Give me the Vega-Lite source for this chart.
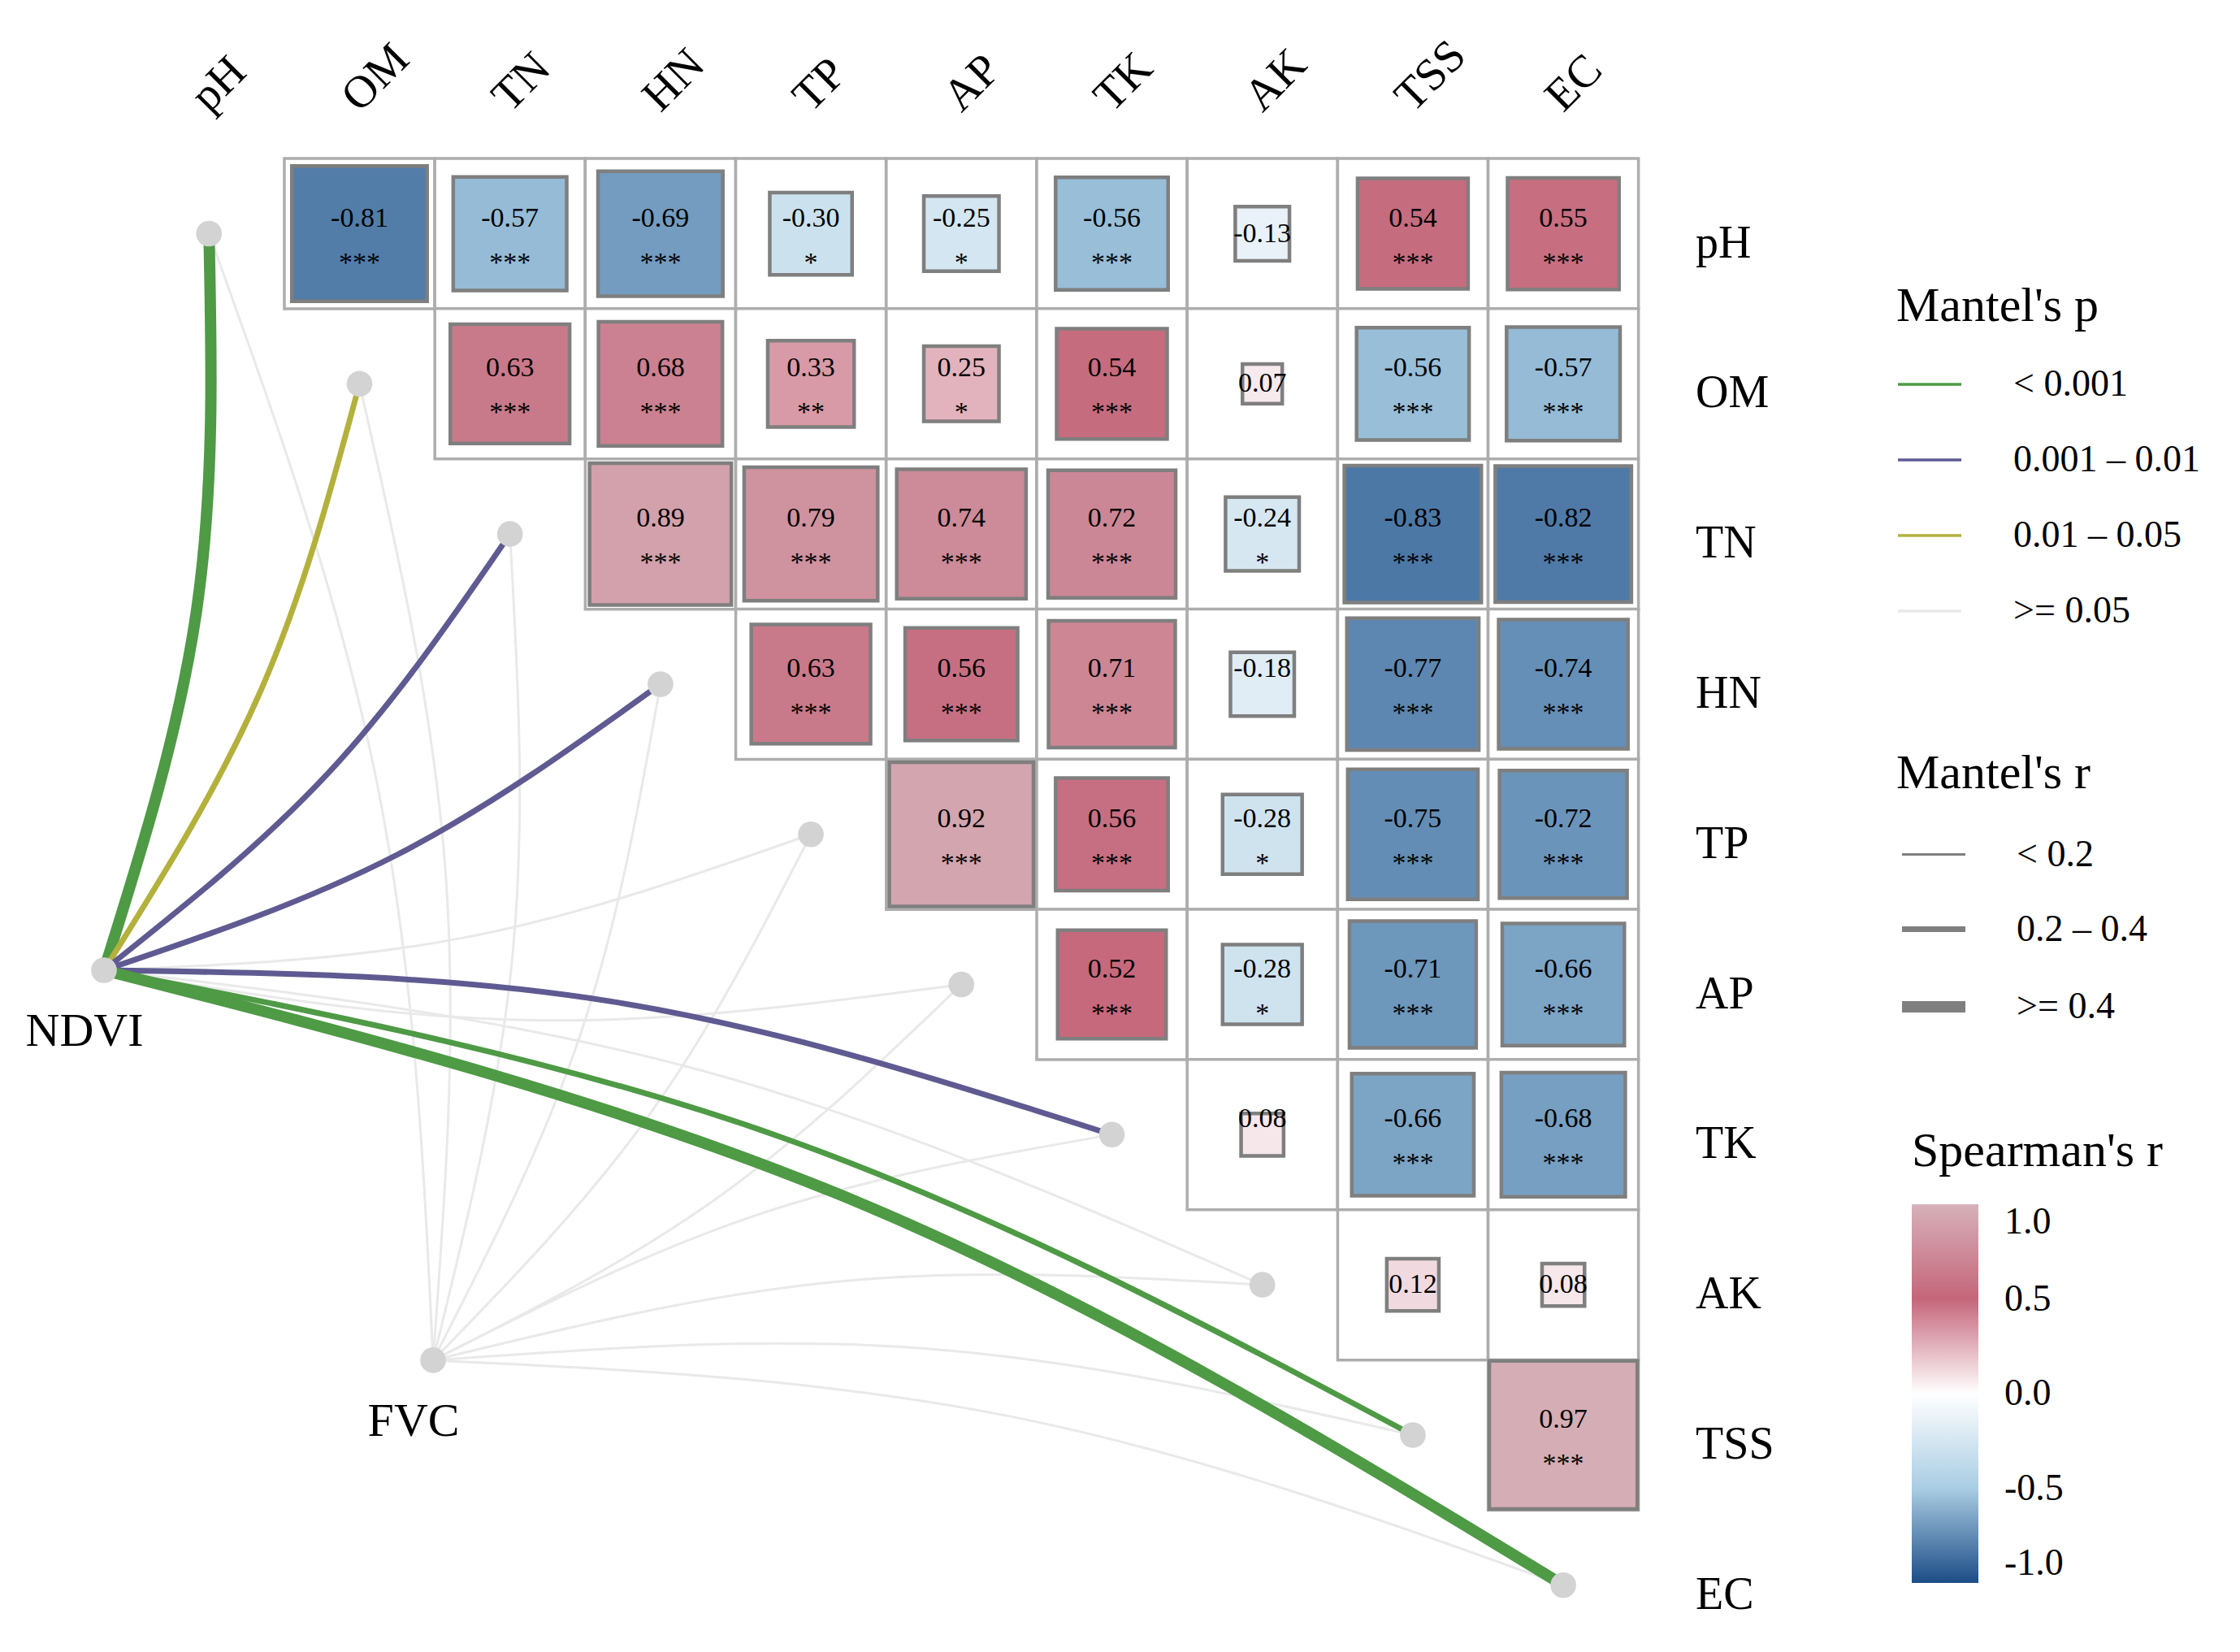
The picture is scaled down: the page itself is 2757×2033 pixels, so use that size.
{
  "$schema": "https://vega.github.io/schema/vega-lite/v6.json",
  "width": 2757,
  "height": 2033,
  "autosize": {"type": "none"},
  "padding": 0,
  "background": "white",
  "config": {
    "view": {"stroke": null},
    "locale": {"number": {"decimal": ".", "thousands": ",", "grouping": [3], "currency": ["$", ""], "minus": "-"}},
    "legend": {"labelFont": "Liberation Serif", "titleFont": "Liberation Serif", "labelFontSize": 46, "titleFontSize": 60, "titleFontWeight": "normal", "labelColor": "black", "titleColor": "black", "padding": 0, "titleLimit": 1000, "labelLimit": 1000}
  },
  "resolve": {"scale": {"stroke": "shared", "strokeWidth": "shared"}},
  "datasets": {
    "cells": [
      {"i": 0, "j": 1, "r": -0.81, "sig": "***"},
      {"i": 0, "j": 2, "r": -0.57, "sig": "***"},
      {"i": 0, "j": 3, "r": -0.69, "sig": "***"},
      {"i": 0, "j": 4, "r": -0.30, "sig": "*"},
      {"i": 0, "j": 5, "r": -0.25, "sig": "*"},
      {"i": 0, "j": 6, "r": -0.56, "sig": "***"},
      {"i": 0, "j": 7, "r": -0.13, "sig": null},
      {"i": 0, "j": 8, "r": 0.54, "sig": "***"},
      {"i": 0, "j": 9, "r": 0.55, "sig": "***"},
      {"i": 1, "j": 2, "r": 0.63, "sig": "***"},
      {"i": 1, "j": 3, "r": 0.68, "sig": "***"},
      {"i": 1, "j": 4, "r": 0.33, "sig": "**"},
      {"i": 1, "j": 5, "r": 0.25, "sig": "*"},
      {"i": 1, "j": 6, "r": 0.54, "sig": "***"},
      {"i": 1, "j": 7, "r": 0.07, "sig": null},
      {"i": 1, "j": 8, "r": -0.56, "sig": "***"},
      {"i": 1, "j": 9, "r": -0.57, "sig": "***"},
      {"i": 2, "j": 3, "r": 0.89, "sig": "***"},
      {"i": 2, "j": 4, "r": 0.79, "sig": "***"},
      {"i": 2, "j": 5, "r": 0.74, "sig": "***"},
      {"i": 2, "j": 6, "r": 0.72, "sig": "***"},
      {"i": 2, "j": 7, "r": -0.24, "sig": "*"},
      {"i": 2, "j": 8, "r": -0.83, "sig": "***"},
      {"i": 2, "j": 9, "r": -0.82, "sig": "***"},
      {"i": 3, "j": 4, "r": 0.63, "sig": "***"},
      {"i": 3, "j": 5, "r": 0.56, "sig": "***"},
      {"i": 3, "j": 6, "r": 0.71, "sig": "***"},
      {"i": 3, "j": 7, "r": -0.18, "sig": ""},
      {"i": 3, "j": 8, "r": -0.77, "sig": "***"},
      {"i": 3, "j": 9, "r": -0.74, "sig": "***"},
      {"i": 4, "j": 5, "r": 0.92, "sig": "***"},
      {"i": 4, "j": 6, "r": 0.56, "sig": "***"},
      {"i": 4, "j": 7, "r": -0.28, "sig": "*"},
      {"i": 4, "j": 8, "r": -0.75, "sig": "***"},
      {"i": 4, "j": 9, "r": -0.72, "sig": "***"},
      {"i": 5, "j": 6, "r": 0.52, "sig": "***"},
      {"i": 5, "j": 7, "r": -0.28, "sig": "*"},
      {"i": 5, "j": 8, "r": -0.71, "sig": "***"},
      {"i": 5, "j": 9, "r": -0.66, "sig": "***"},
      {"i": 6, "j": 7, "r": 0.08, "sig": ""},
      {"i": 6, "j": 8, "r": -0.66, "sig": "***"},
      {"i": 6, "j": 9, "r": -0.68, "sig": "***"},
      {"i": 7, "j": 8, "r": 0.12, "sig": null},
      {"i": 7, "j": 9, "r": 0.08, "sig": null},
      {"i": 8, "j": 9, "r": 0.97, "sig": "***"}
    ],
    "vars": [
      {"i": 0, "name": "pH"}, {"i": 1, "name": "OM"}, {"i": 2, "name": "TN"}, {"i": 3, "name": "HN"}, {"i": 4, "name": "TP"},
      {"i": 5, "name": "AP"}, {"i": 6, "name": "TK"}, {"i": 7, "name": "AK"}, {"i": 8, "name": "TSS"}, {"i": 9, "name": "EC"}
    ],
    "nodes": [
      {"name": "NDVI", "x": -0.698, "y": 4.905},
      {"name": "FVC", "x": 1.489, "y": 7.502}
    ],
    "links": [
      {"l": "NDVI-pH", "k": 0, "x": -0.698, "y": 4.905, "pc": "< 0.001", "rc": ">= 0.4"},
      {"l": "NDVI-pH", "k": 1, "x": -0.08, "y": 2.49, "pc": "< 0.001", "rc": ">= 0.4"},
      {"l": "NDVI-pH", "k": 2, "x": 0, "y": 0, "pc": "< 0.001", "rc": ">= 0.4"},
      {"l": "NDVI-OM", "k": 0, "x": -0.698, "y": 4.905, "pc": "0.01 – 0.05", "rc": "0.2 – 0.4"},
      {"l": "NDVI-OM", "k": 1, "x": 0.346, "y": 3.038, "pc": "0.01 – 0.05", "rc": "0.2 – 0.4"},
      {"l": "NDVI-OM", "k": 2, "x": 1, "y": 1, "pc": "0.01 – 0.05", "rc": "0.2 – 0.4"},
      {"l": "NDVI-TN", "k": 0, "x": -0.698, "y": 4.905, "pc": "0.001 – 0.01", "rc": "0.2 – 0.4"},
      {"l": "NDVI-TN", "k": 1, "x": 0.796, "y": 3.588, "pc": "0.001 – 0.01", "rc": "0.2 – 0.4"},
      {"l": "NDVI-TN", "k": 2, "x": 2, "y": 2, "pc": "0.001 – 0.01", "rc": "0.2 – 0.4"},
      {"l": "NDVI-HN", "k": 0, "x": -0.698, "y": 4.905, "pc": "0.001 – 0.01", "rc": "0.2 – 0.4"},
      {"l": "NDVI-HN", "k": 1, "x": 1.246, "y": 4.138, "pc": "0.001 – 0.01", "rc": "0.2 – 0.4"},
      {"l": "NDVI-HN", "k": 2, "x": 3, "y": 3, "pc": "0.001 – 0.01", "rc": "0.2 – 0.4"},
      {"l": "NDVI-TP", "k": 0, "x": -0.698, "y": 4.905, "pc": ">= 0.05", "rc": "< 0.2"},
      {"l": "NDVI-TP", "k": 1, "x": 1.696, "y": 4.688, "pc": ">= 0.05", "rc": "< 0.2"},
      {"l": "NDVI-TP", "k": 2, "x": 4, "y": 4, "pc": ">= 0.05", "rc": "< 0.2"},
      {"l": "NDVI-AP", "k": 0, "x": -0.698, "y": 4.905, "pc": ">= 0.05", "rc": "< 0.2"},
      {"l": "NDVI-AP", "k": 1, "x": 2.146, "y": 5.238, "pc": ">= 0.05", "rc": "< 0.2"},
      {"l": "NDVI-AP", "k": 2, "x": 5, "y": 5, "pc": ">= 0.05", "rc": "< 0.2"},
      {"l": "NDVI-TK", "k": 0, "x": -0.698, "y": 4.905, "pc": "0.001 – 0.01", "rc": "0.2 – 0.4"},
      {"l": "NDVI-TK", "k": 1, "x": 2.706, "y": 5.118, "pc": "0.001 – 0.01", "rc": "0.2 – 0.4"},
      {"l": "NDVI-TK", "k": 2, "x": 6, "y": 6, "pc": "0.001 – 0.01", "rc": "0.2 – 0.4"},
      {"l": "NDVI-AK", "k": 0, "x": -0.698, "y": 4.905, "pc": ">= 0.05", "rc": "< 0.2"},
      {"l": "NDVI-AK", "k": 1, "x": 3.256, "y": 5.568, "pc": ">= 0.05", "rc": "< 0.2"},
      {"l": "NDVI-AK", "k": 2, "x": 7, "y": 7, "pc": ">= 0.05", "rc": "< 0.2"},
      {"l": "NDVI-TSS", "k": 0, "x": -0.698, "y": 4.905, "pc": "< 0.001", "rc": "0.2 – 0.4"},
      {"l": "NDVI-TSS", "k": 1, "x": 3.806, "y": 6.018, "pc": "< 0.001", "rc": "0.2 – 0.4"},
      {"l": "NDVI-TSS", "k": 2, "x": 8, "y": 8, "pc": "< 0.001", "rc": "0.2 – 0.4"},
      {"l": "NDVI-EC", "k": 0, "x": -0.698, "y": 4.905, "pc": "< 0.001", "rc": ">= 0.4"},
      {"l": "NDVI-EC", "k": 1, "x": 4.356, "y": 6.468, "pc": "< 0.001", "rc": ">= 0.4"},
      {"l": "NDVI-EC", "k": 2, "x": 9, "y": 9, "pc": "< 0.001", "rc": ">= 0.4"},
      {"l": "FVC-pH", "k": 0, "x": 1.489, "y": 7.502, "pc": ">= 0.05", "rc": "< 0.2"},
      {"l": "FVC-pH", "k": 1, "x": 1.120, "y": 3.677, "pc": ">= 0.05", "rc": "< 0.2"},
      {"l": "FVC-pH", "k": 2, "x": 0, "y": 0, "pc": ">= 0.05", "rc": "< 0.2"},
      {"l": "FVC-OM", "k": 0, "x": 1.489, "y": 7.502, "pc": ">= 0.05", "rc": "< 0.2"},
      {"l": "FVC-OM", "k": 1, "x": 1.570, "y": 4.227, "pc": ">= 0.05", "rc": "< 0.2"},
      {"l": "FVC-OM", "k": 2, "x": 1, "y": 1, "pc": ">= 0.05", "rc": "< 0.2"},
      {"l": "FVC-TN", "k": 0, "x": 1.489, "y": 7.502, "pc": ">= 0.05", "rc": "< 0.2"},
      {"l": "FVC-TN", "k": 1, "x": 2.020, "y": 4.777, "pc": ">= 0.05", "rc": "< 0.2"},
      {"l": "FVC-TN", "k": 2, "x": 2, "y": 2, "pc": ">= 0.05", "rc": "< 0.2"},
      {"l": "FVC-HN", "k": 0, "x": 1.489, "y": 7.502, "pc": ">= 0.05", "rc": "< 0.2"},
      {"l": "FVC-HN", "k": 1, "x": 2.470, "y": 5.327, "pc": ">= 0.05", "rc": "< 0.2"},
      {"l": "FVC-HN", "k": 2, "x": 3, "y": 3, "pc": ">= 0.05", "rc": "< 0.2"},
      {"l": "FVC-TP", "k": 0, "x": 1.489, "y": 7.502, "pc": ">= 0.05", "rc": "< 0.2"},
      {"l": "FVC-TP", "k": 1, "x": 2.920, "y": 5.877, "pc": ">= 0.05", "rc": "< 0.2"},
      {"l": "FVC-TP", "k": 2, "x": 4, "y": 4, "pc": ">= 0.05", "rc": "< 0.2"},
      {"l": "FVC-AP", "k": 0, "x": 1.489, "y": 7.502, "pc": ">= 0.05", "rc": "< 0.2"},
      {"l": "FVC-AP", "k": 1, "x": 3.370, "y": 6.427, "pc": ">= 0.05", "rc": "< 0.2"},
      {"l": "FVC-AP", "k": 2, "x": 5, "y": 5, "pc": ">= 0.05", "rc": "< 0.2"},
      {"l": "FVC-TK", "k": 0, "x": 1.489, "y": 7.502, "pc": ">= 0.05", "rc": "< 0.2"},
      {"l": "FVC-TK", "k": 1, "x": 3.670, "y": 6.525, "pc": ">= 0.05", "rc": "< 0.2"},
      {"l": "FVC-TK", "k": 2, "x": 6, "y": 6, "pc": ">= 0.05", "rc": "< 0.2"},
      {"l": "FVC-AK", "k": 0, "x": 1.489, "y": 7.502, "pc": ">= 0.05", "rc": "< 0.2"},
      {"l": "FVC-AK", "k": 1, "x": 4.220, "y": 6.975, "pc": ">= 0.05", "rc": "< 0.2"},
      {"l": "FVC-AK", "k": 2, "x": 7, "y": 7, "pc": ">= 0.05", "rc": "< 0.2"},
      {"l": "FVC-TSS", "k": 0, "x": 1.489, "y": 7.502, "pc": ">= 0.05", "rc": "< 0.2"},
      {"l": "FVC-TSS", "k": 1, "x": 4.770, "y": 7.425, "pc": ">= 0.05", "rc": "< 0.2"},
      {"l": "FVC-TSS", "k": 2, "x": 8, "y": 8, "pc": ">= 0.05", "rc": "< 0.2"},
      {"l": "FVC-EC", "k": 0, "x": 1.489, "y": 7.502, "pc": ">= 0.05", "rc": "< 0.2"},
      {"l": "FVC-EC", "k": 1, "x": 5.320, "y": 7.875, "pc": ">= 0.05", "rc": "< 0.2"},
      {"l": "FVC-EC", "k": 2, "x": 9, "y": 9, "pc": ">= 0.05", "rc": "< 0.2"}
    ]
  },
  "layer": [
    {
      "data": {"name": "cells"},
      "mark": {"type": "square", "size": 34225, "fill": "white", "stroke": "#adadad", "strokeWidth": 3.5, "opacity": 1},
      "encoding": {
        "x": {"field": "j", "type": "quantitative", "scale": {"domain": [-1.389, 13.497], "nice": false, "zero": false}, "axis": null},
        "y": {"field": "i", "type": "quantitative", "scale": {"domain": [-1.556, 9.445], "nice": false, "zero": false, "reverse": true}, "axis": null}
      }
    },
    {
      "data": {"name": "cells"},
      "transform": [{"calculate": "abs(datum.r)", "as": "absr"}],
      "mark": {"type": "square", "stroke": "#7f7f7f", "strokeWidth": 4.5, "opacity": 1},
      "encoding": {
        "x": {"field": "j", "type": "quantitative", "axis": null},
        "y": {"field": "i", "type": "quantitative", "axis": null},
        "fill": {
          "field": "r", "type": "quantitative",
          "scale": {"domain": [-1, -0.5, 0, 0.5, 1], "range": ["#1c4c86", "#a9cde3", "#ffffff", "#c5667a", "#d6b1b9"], "interpolate": "rgb"},
          "legend": {
            "title": "Spearman's r", "orient": "none", "legendX": 2353, "legendY": 1388, "direction": "vertical",
            "gradientLength": 466, "gradientThickness": 82, "gradientStrokeWidth": 0,
            "values": [-1, -0.5, 0, 0.5, 1], "labelExpr": "replace(format(datum.value, '.1f'), '\u2212', '-')",
            "titlePadding": 34, "labelOffset": 32
          }
        },
        "size": {"field": "absr", "type": "quantitative", "scale": {"domain": [0, 1], "range": [0, 34225], "zero": true}, "legend": null}
      }
    },
    {
      "data": {"name": "cells"},
      "transform": [
        {"filter": "datum.sig != null"},
        {"calculate": "replace(format(datum.r, '.2f'), '\u2212', '-')", "as": "lab"}
      ],
      "mark": {"type": "text", "font": "Liberation Serif", "fontSize": 34, "color": "black", "align": "center", "baseline": "middle", "dy": -19},
      "encoding": {
        "x": {"field": "j", "type": "quantitative", "axis": null},
        "y": {"field": "i", "type": "quantitative", "axis": null},
        "text": {"field": "lab", "type": "nominal"}
      }
    },
    {
      "data": {"name": "cells"},
      "transform": [
        {"filter": "datum.sig == null"},
        {"calculate": "replace(format(datum.r, '.2f'), '\u2212', '-')", "as": "lab"}
      ],
      "mark": {"type": "text", "font": "Liberation Serif", "fontSize": 34, "color": "black", "align": "center", "baseline": "middle", "dy": 0},
      "encoding": {
        "x": {"field": "j", "type": "quantitative", "axis": null},
        "y": {"field": "i", "type": "quantitative", "axis": null},
        "text": {"field": "lab", "type": "nominal"}
      }
    },
    {
      "data": {"name": "cells"},
      "transform": [{"filter": "datum.sig != null && datum.sig != ''"}],
      "mark": {"type": "text", "font": "Liberation Serif", "fontSize": 34, "color": "black", "align": "center", "baseline": "middle", "dy": 36},
      "encoding": {
        "x": {"field": "j", "type": "quantitative", "axis": null},
        "y": {"field": "i", "type": "quantitative", "axis": null},
        "text": {"field": "sig", "type": "nominal"}
      }
    },
    {
      "data": {"name": "links"},
      "transform": [{"filter": "datum.pc == '>= 0.05'"}],
      "mark": {"type": "line", "interpolate": "natural", "strokeCap": "round", "opacity": 1},
      "encoding": {
        "x": {"field": "x", "type": "quantitative", "axis": null},
        "y": {"field": "y", "type": "quantitative", "axis": null},
        "detail": {"field": "l", "type": "nominal"},
        "order": {"field": "k", "type": "quantitative"},
        "stroke": {
          "field": "pc", "type": "nominal",
          "scale": {"domain": ["< 0.001", "0.001 – 0.01", "0.01 – 0.05", ">= 0.05"], "range": ["#4e9a45", "#5f5a91", "#b3b13c", "#e9e9e9"]},
          "legend": {"title": "Mantel's p", "orient": "none", "legendX": 2334, "legendY": 348, "symbolType": "stroke", "symbolSize": 6084, "symbolStrokeWidth": 3.5, "labelOffset": 62, "titlePadding": 24, "rowPadding": 29}
        },
        "strokeWidth": {
          "field": "rc", "type": "ordinal",
          "scale": {"type": "ordinal", "domain": ["< 0.2", "0.2 – 0.4", ">= 0.4"], "range": [3, 7, 14]},
          "legend": {"title": "Mantel's r", "orient": "none", "legendX": 2334, "legendY": 923, "symbolType": "stroke", "symbolSize": 6084, "symbolStrokeColor": "#7f7f7f", "labelOffset": 56, "titlePadding": 28, "rowPadding": 26}
        }
      }
    },
    {
      "data": {"name": "links"},
      "transform": [{"filter": "datum.pc != '>= 0.05'"}],
      "mark": {"type": "line", "interpolate": "natural", "strokeCap": "round", "opacity": 1},
      "encoding": {
        "x": {"field": "x", "type": "quantitative", "axis": null},
        "y": {"field": "y", "type": "quantitative", "axis": null},
        "detail": {"field": "l", "type": "nominal"},
        "order": {"field": "k", "type": "quantitative"},
        "stroke": {
          "field": "pc", "type": "nominal",
          "scale": {"domain": ["< 0.001", "0.001 – 0.01", "0.01 – 0.05", ">= 0.05"], "range": ["#4e9a45", "#5f5a91", "#b3b13c", "#e9e9e9"]},
          "legend": {"title": "Mantel's p", "orient": "none", "legendX": 2334, "legendY": 348, "symbolType": "stroke", "symbolSize": 6084, "symbolStrokeWidth": 3.5, "labelOffset": 62, "titlePadding": 24, "rowPadding": 29}
        },
        "strokeWidth": {
          "field": "rc", "type": "ordinal",
          "scale": {"type": "ordinal", "domain": ["< 0.2", "0.2 – 0.4", ">= 0.4"], "range": [3, 7, 14]},
          "legend": {"title": "Mantel's r", "orient": "none", "legendX": 2334, "legendY": 923, "symbolType": "stroke", "symbolSize": 6084, "symbolStrokeColor": "#7f7f7f", "labelOffset": 56, "titlePadding": 28, "rowPadding": 26}
        }
      }
    },
    {
      "data": {"name": "vars"},
      "mark": {"type": "circle", "size": 1000, "color": "#d3d3d3", "opacity": 1},
      "encoding": {
        "x": {"field": "i", "type": "quantitative", "axis": null},
        "y": {"field": "i", "type": "quantitative", "axis": null}
      }
    },
    {
      "data": {"name": "nodes"},
      "mark": {"type": "circle", "size": 1000, "color": "#d3d3d3", "opacity": 1},
      "encoding": {
        "x": {"field": "x", "type": "quantitative", "axis": null},
        "y": {"field": "y", "type": "quantitative", "axis": null}
      }
    },
    {
      "data": {"name": "nodes"},
      "mark": {"type": "text", "font": "Liberation Serif", "fontSize": 58, "color": "black", "align": "center", "baseline": "middle", "dx": -24, "dy": 76},
      "encoding": {
        "x": {"field": "x", "type": "quantitative", "axis": null},
        "y": {"field": "y", "type": "quantitative", "axis": null},
        "text": {"field": "name", "type": "nominal"}
      }
    },
    {
      "data": {"name": "vars"},
      "mark": {"type": "text", "font": "Liberation Serif", "fontSize": 56, "color": "black", "align": "left", "baseline": "alphabetic", "angle": -45},
      "encoding": {
        "x": {"field": "i", "type": "quantitative", "axis": null},
        "y": {"datum": -0.8, "type": "quantitative", "axis": null},
        "text": {"field": "name", "type": "nominal"}
      }
    },
    {
      "data": {"name": "vars"},
      "mark": {"type": "text", "font": "Liberation Serif", "fontSize": 56, "color": "black", "align": "left", "baseline": "middle", "dy": 12},
      "encoding": {
        "x": {"datum": 9.88, "type": "quantitative", "axis": null},
        "y": {"field": "i", "type": "quantitative", "axis": null},
        "text": {"field": "name", "type": "nominal"}
      }
    }
  ]
}
